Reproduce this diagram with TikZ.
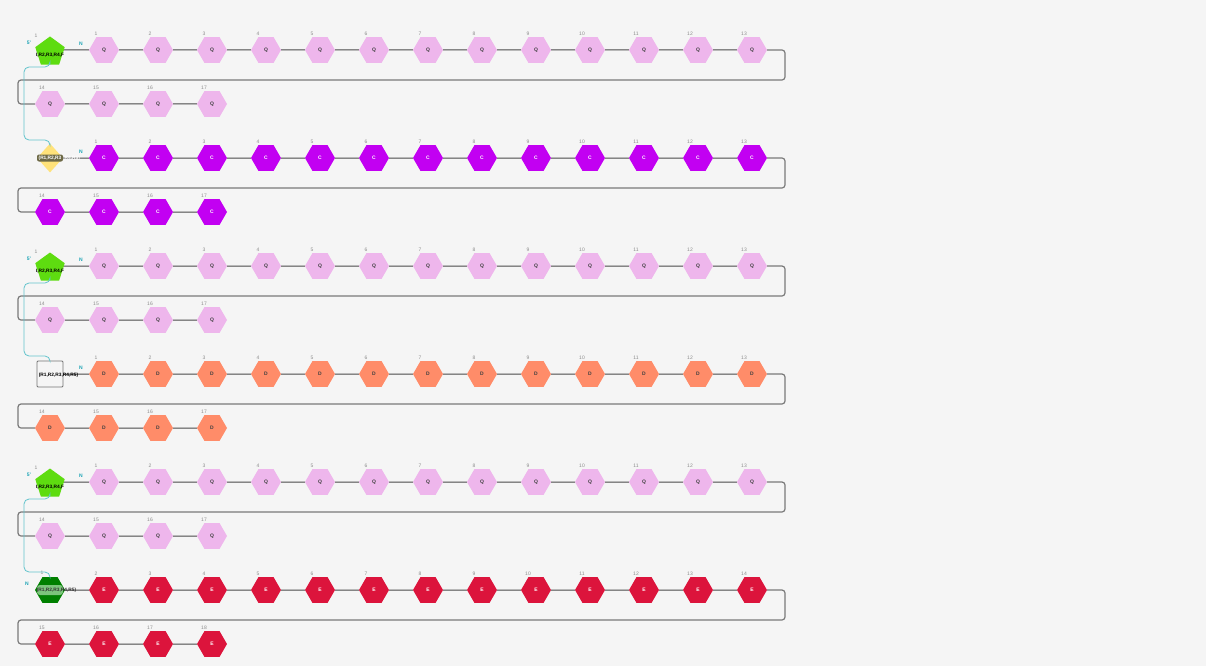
\documentclass[tikz,border=0pt]{standalone}
\usepackage{fontspec}
\setmainfont{Liberation Sans}
\usetikzlibrary{shapes.geometric}

\definecolor{bgcol}{HTML}{F5F5F5}
\definecolor{qpink}{HTML}{EEB6EC}
\definecolor{cpurple}{HTML}{C200F2}
\definecolor{dsalmon}{HTML}{FF8C69}
\definecolor{ecrimson}{HTML}{DC143C}
\definecolor{pgreen}{HTML}{5EDC10}
\definecolor{hgreen}{HTML}{008000}
\definecolor{lgreen}{HTML}{7CC47C}
\definecolor{dyellow}{HTML}{FFE27A}
\definecolor{olivebox}{HTML}{6D6946}
\definecolor{tealink}{HTML}{62C3CC}
\definecolor{nteal}{HTML}{1AA3B5}
\definecolor{numgray}{HTML}{8C8C8C}
\definecolor{chaingray}{HTML}{4A4A4A}
\definecolor{wrapgray}{HTML}{7A7A7A}

\pgfdeclarelayer{bg}
\pgfdeclarelayer{lines}
\pgfsetlayers{bg,lines,main}

\begin{document}
\begin{tikzpicture}[x=1pt,y=-1pt,
    hexbox/.style={regular polygon, regular polygon sides=6, minimum size=30pt,
        inner sep=0pt, font=\fontsize{5}{5}\selectfont\bfseries},
    qhex/.style={hexbox, fill=qpink, text=black!75},
    chex/.style={hexbox, fill=cpurple, text=white},
    dhex/.style={hexbox, fill=dsalmon, text=black!75},
    ehex/.style={hexbox, fill=ecrimson, text=white},
    pentbox/.style={regular polygon, regular polygon sides=5, minimum size=31pt,
        inner sep=0pt, fill=pgreen},
    rhombbox/.style={diamond, minimum width=26pt, minimum height=29pt,
        inner sep=0pt, fill=dyellow},
    squarebox/.style={rectangle, rounded corners=1pt, minimum size=26pt,
        inner sep=0pt, fill=bgcol, draw=black!55, line width=0.8pt},
    intext/.style={inner sep=0pt, font=\fontsize{4.8}{5}\selectfont\bfseries},
    num/.style={inner sep=0pt, text=numgray, font=\fontsize{5}{6}\selectfont},
    endlbl/.style={inner sep=0pt, text=nteal, font=\fontsize{5}{6}\selectfont\bfseries},
    chain/.style={draw=chaingray, line width=1pt},
    wrap/.style={draw=wrapgray, line width=1.2pt, rounded corners=3pt},
    link/.style={draw=tealink, line width=0.8pt, rounded corners=5pt}]

    % Background
    \begin{pgfonlayer}{bg}
        \fill[bgcol] (0,0) rectangle (1206,666);
    \end{pgfonlayer}

    % Chains
    \foreach \g/\y/\s/\t/\o in {qa/50/qhex/Q/0, cc/158/chex/C/0, qb/266/qhex/Q/0,
                                dd/374/dhex/D/0, qc/482/qhex/Q/0, ee/590/ehex/E/1} {
        \foreach \i in {1,...,13} {
            \pgfmathtruncatemacro{\n}{\i+\o}
            \node[\s] (\g\i) at (50+54*\i,\y) {\t};
            \node[num] at (42+54*\i,\y-16) {\n};
        }
        \foreach \i in {14,...,17} {
            \pgfmathtruncatemacro{\n}{\i+\o}
            \node[\s] (\g\i) at (54*\i-706,\y+54) {\t};
            \node[num] at (54*\i-714,\y+38) {\n};
        }
    }

    % Start of the Q chains
    \foreach \g/\y in {qa/50, qb/266, qc/482} {
        \node[pentbox] (\g0) at (50,\y+2) {};
        \node[intext] at (50,\y+5) {I,R2,R3,R4,F};
        \node[num] at (36,\y-14) {1};
        \node[endlbl] at (29,\y-7) {5'};
        \node[endlbl] at (81,\y-6) {N};
    }

    % Start of the other chains
    \node[rhombbox] (cc0) at (50,158) {};
    \node[intext, fill=olivebox, text=white, rounded corners=2pt,
        minimum width=26pt, minimum height=7pt] (ccl) at (50,158) {(R1,R2,R3};
    \node[intext, text=white, anchor=west] at (ccl.east) {,R4,R5)};
    \node[endlbl] at (81,152) {N};

    \node[squarebox] (dd0) at (50,374) {};
    \node[intext] at (58.5,375) {(R1,R2,R3,R4,R5)};
    \node[endlbl] at (81,368) {N};

    \node[hexbox, fill=hgreen] (ee0) at (50,590) {};
    \node[fill=lgreen, rounded corners=3pt, minimum width=26pt,
        minimum height=10pt, inner sep=0pt] at (50,590) {};
    \node[intext, text=black!80] at (56.5,590.5) {(R1,R2,R3,R4,R5)};
    \node[num] at (42,573) {1};
    \node[endlbl] at (27,584) {N};

    % Connectors
    \begin{pgfonlayer}{lines}
        \foreach \g/\y in {qa/50, cc/158, qb/266, dd/374, qc/482, ee/590} {
            \draw[chain] (\g1) -- (\g1 -| \g0);
            \foreach \i [count=\j from 2] in {1,...,12}
                \draw[chain] (\g\i) -- (\g\j);
            \foreach \i [count=\j from 15] in {14,15,16}
                \draw[chain] (\g\i) -- (\g\j);
            \draw[wrap] (\g13.east) -- (785,\y) -- (785,\y+30) -- (18,\y+30)
                -- (18,\y+54) -- (\g14.west);
        }
    \end{pgfonlayer}

    \foreach \a/\b/\y in {qa/cc/50, qb/dd/266, qc/ee/482}
        \draw[link] (\a0.south) -- (50,\y+17) -- (24,\y+17) -- (24,\y+90)
            -- (50,\y+90) -- (\b0.north);
\end{tikzpicture}
\end{document}
